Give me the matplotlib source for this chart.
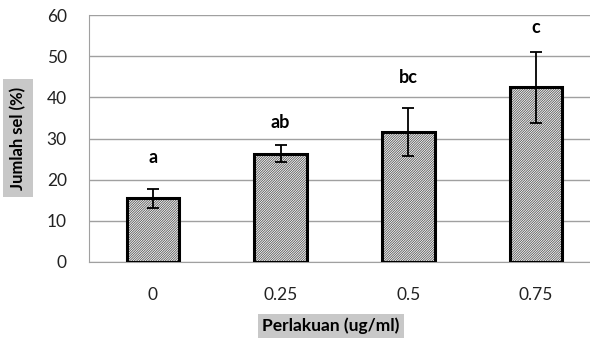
import matplotlib.pyplot as plt
import numpy as np

# data
doses = ['0', '0.25', '0.5', '0.75']
means = [15.5, 26.3, 31.5, 42.4]
errors = [2.3, 2.1, 5.8, 8.6]
letters = ['a', 'ab', 'bc', 'c']
letter_y = [25.3, 34.0, 44.7, 57.0]

plt.rcParams['font.family'] = ['Lato', 'DejaVu Sans']
plt.rcParams['hatch.linewidth'] = 0.6

fig = plt.figure(figsize=(5.9, 3.39), dpi=100)
# plot area runs off the right edge like in the reference crop
ax = fig.add_axes([89 / 590, 1 - 262 / 339, 511 / 590, 247 / 339])

x = np.arange(len(doses))
# hatch layer in grey, then the black outline on top
ax.bar(x, means, width=0.41, color='white', edgecolor='#555555',
       linewidth=0, hatch='/' * 14, zorder=3)
ax.bar(x, means, width=0.41, color='none', edgecolor='black',
       linewidth=2.2, zorder=3)
ax.errorbar(x, means, yerr=errors, fmt='none', ecolor='black',
            elinewidth=1.3, capsize=4, capthick=1.3, zorder=4)

for xi, lab, ly in zip(x, letters, letter_y):
    ax.text(xi, ly, lab, ha='center', va='center', fontsize=13,
            fontweight='bold', color='black')

ax.set_xlim(-0.5, 3.5)
ax.set_ylim(0, 60)
ax.set_yticks(range(0, 61, 10))
ax.set_xticks(x)
ax.set_xticklabels(doses)
ax.tick_params(axis='both', length=0, labelsize=12.5, colors='#222222')
ax.tick_params(axis='y', pad=16)
ax.tick_params(axis='x', pad=18)
ax.yaxis.grid(True, color='#a0a0a0', linewidth=1, zorder=0)
for s in ['right', 'top']:
    ax.spines[s].set_visible(False)
ax.spines['left'].set_color('#a0a0a0')
ax.spines['bottom'].set_color('#a0a0a0')

fig.text(18 / 590, 1 - 138 / 339, 'Jumlah sel (%)', rotation=90,
         ha='center', va='center', fontsize=12, fontweight='bold',
         bbox=dict(facecolor='#c8c8c8', edgecolor='none', pad=5))
fig.text(331 / 590, 1 - 326 / 339, 'Perlakuan (ug/ml)', ha='center',
         va='center', fontsize=12.5, fontweight='bold',
         bbox=dict(facecolor='#c8c8c8', edgecolor='none', pad=3))

plt.savefig('out.png', dpi=100)
